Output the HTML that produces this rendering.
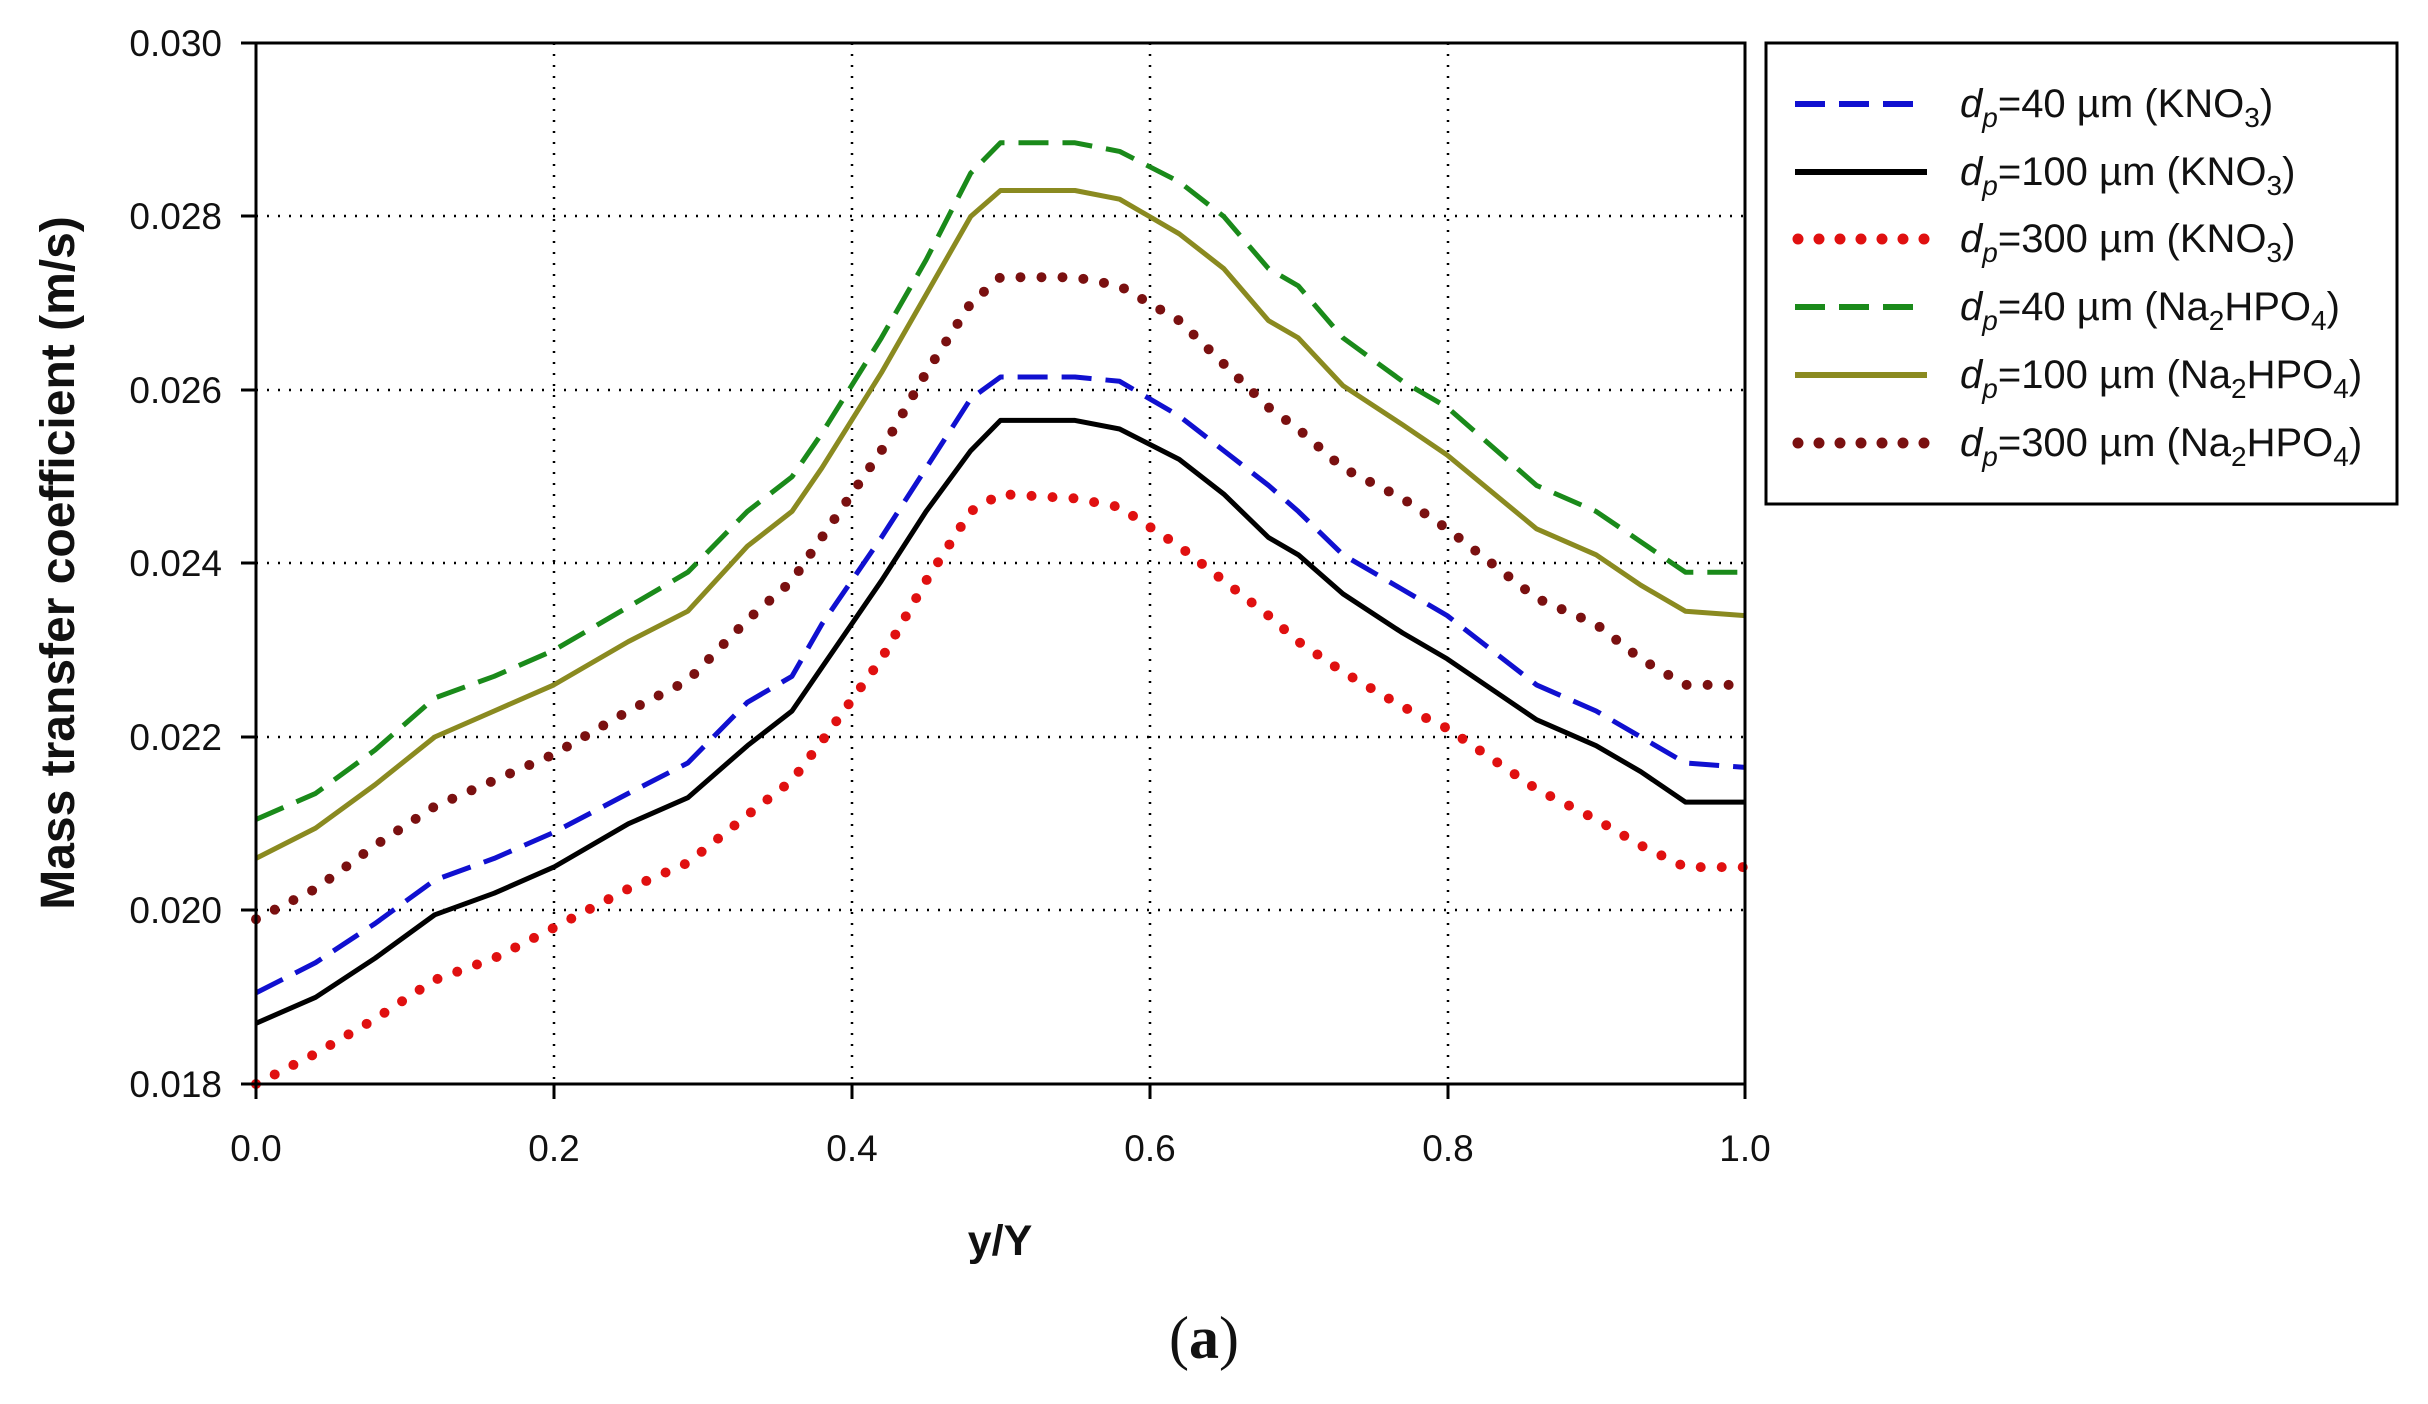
<!DOCTYPE html>
<html><head><meta charset="utf-8"><style>
html,body{margin:0;padding:0;background:#fff;}
svg{display:block;font-family:"Liberation Sans",Arial,sans-serif;}
</style></head><body>
<svg id="s" width="2428" height="1404" viewBox="0 0 2428 1404" xmlns="http://www.w3.org/2000/svg">
<rect width="2428" height="1404" fill="#fff"/>
<g stroke="#000" stroke-width="2.5" stroke-dasharray="2 9" fill="none">
<line x1="554" y1="43" x2="554" y2="1084"/><line x1="852" y1="43" x2="852" y2="1084"/>
<line x1="1150" y1="43" x2="1150" y2="1084"/><line x1="1448" y1="43" x2="1448" y2="1084"/>
<line x1="256" y1="910" x2="1745" y2="910"/><line x1="256" y1="737" x2="1745" y2="737"/>
<line x1="256" y1="563" x2="1745" y2="563"/><line x1="256" y1="390" x2="1745" y2="390"/>
<line x1="256" y1="216" x2="1745" y2="216"/>
</g>
<g id="series"></g>
<rect x="256" y="43" width="1489" height="1041" fill="none" stroke="#000" stroke-width="3"/>
<g stroke="#000" stroke-width="3">
<line x1="256" y1="1084" x2="256" y2="1099"/><line x1="554" y1="1084" x2="554" y2="1099"/>
<line x1="852" y1="1084" x2="852" y2="1099"/><line x1="1150" y1="1084" x2="1150" y2="1099"/>
<line x1="1448" y1="1084" x2="1448" y2="1099"/><line x1="1745" y1="1084" x2="1745" y2="1099"/>
<line x1="241" y1="1084" x2="256" y2="1084"/><line x1="241" y1="910" x2="256" y2="910"/>
<line x1="241" y1="737" x2="256" y2="737"/><line x1="241" y1="563" x2="256" y2="563"/>
<line x1="241" y1="390" x2="256" y2="390"/><line x1="241" y1="216" x2="256" y2="216"/>
<line x1="241" y1="43" x2="256" y2="43"/>
</g>
<g font-size="37" fill="#111" text-anchor="end">
<text x="222" y="1097">0.018</text><text x="222" y="923">0.020</text><text x="222" y="750">0.022</text>
<text x="222" y="576">0.024</text><text x="222" y="403">0.026</text><text x="222" y="229">0.028</text>
<text x="222" y="56">0.030</text>
</g>
<g font-size="37" fill="#111" text-anchor="middle">
<text x="256" y="1161">0.0</text><text x="554" y="1161">0.2</text><text x="852" y="1161">0.4</text>
<text x="1150" y="1161">0.6</text><text x="1448" y="1161">0.8</text><text x="1745" y="1161">1.0</text>
</g>
<text x="1000" y="1255" font-size="43" font-weight="bold" text-anchor="middle" fill="#111">y/Y</text>
<text transform="translate(74,563) rotate(-90)" font-size="48" font-weight="bold" text-anchor="middle" fill="#111">Mass transfer coefficient (m/s)</text>
<text x="1204" y="1358" font-size="60" text-anchor="middle" font-family="Liberation Serif,serif" fill="#111">(<tspan font-weight="bold">a</tspan>)</text>
<rect x="1766" y="43" width="631" height="461" fill="#fff" stroke="#000" stroke-width="3"/>
<g id="leg"></g>
<g font-size="40" fill="#111">
<text x="1960" y="117"><tspan font-style="italic">d</tspan><tspan font-style="italic" font-size="28" dy="10">p</tspan><tspan dy="-10">=40 µm (KNO</tspan><tspan font-size="28" dy="10">3</tspan><tspan dy="-10">)</tspan></text>
<text x="1960" y="185"><tspan font-style="italic">d</tspan><tspan font-style="italic" font-size="28" dy="10">p</tspan><tspan dy="-10">=100 µm (KNO</tspan><tspan font-size="28" dy="10">3</tspan><tspan dy="-10">)</tspan></text>
<text x="1960" y="252"><tspan font-style="italic">d</tspan><tspan font-style="italic" font-size="28" dy="10">p</tspan><tspan dy="-10">=300 µm (KNO</tspan><tspan font-size="28" dy="10">3</tspan><tspan dy="-10">)</tspan></text>
<text x="1960" y="320"><tspan font-style="italic">d</tspan><tspan font-style="italic" font-size="28" dy="10">p</tspan><tspan dy="-10">=40 µm (Na</tspan><tspan font-size="28" dy="10">2</tspan><tspan dy="-10">HPO</tspan><tspan font-size="28" dy="10">4</tspan><tspan dy="-10">)</tspan></text>
<text x="1960" y="388"><tspan font-style="italic">d</tspan><tspan font-style="italic" font-size="28" dy="10">p</tspan><tspan dy="-10">=100 µm (Na</tspan><tspan font-size="28" dy="10">2</tspan><tspan dy="-10">HPO</tspan><tspan font-size="28" dy="10">4</tspan><tspan dy="-10">)</tspan></text>
<text x="1960" y="456"><tspan font-style="italic">d</tspan><tspan font-style="italic" font-size="28" dy="10">p</tspan><tspan dy="-10">=300 µm (Na</tspan><tspan font-size="28" dy="10">2</tspan><tspan dy="-10">HPO</tspan><tspan font-size="28" dy="10">4</tspan><tspan dy="-10">)</tspan></text>
</g>
</svg>
<script>
var xs=[0,0.04,0.08,0.12,0.16,0.2,0.25,0.29,0.33,0.36,0.38,0.42,0.45,0.48,0.5,0.55,0.58,0.62,0.65,0.68,0.7,0.73,0.77,0.8,0.86,0.9,0.93,0.96,1.0];
var S=[
{c:"#1010d0",d:"30 14",cap:"butt",w:5,v:[19.05,19.4,19.85,20.35,20.6,20.9,21.35,21.7,22.4,22.7,23.3,24.3,25.1,25.9,26.15,26.15,26.1,25.7,25.3,24.9,24.6,24.1,23.7,23.4,22.6,22.3,22.0,21.7,21.65]},
{c:"#000",d:"",cap:"butt",w:5,v:[18.7,19.0,19.45,19.95,20.2,20.5,21.0,21.3,21.9,22.3,22.8,23.8,24.6,25.3,25.65,25.65,25.55,25.2,24.8,24.3,24.1,23.65,23.2,22.9,22.2,21.9,21.6,21.25,21.25]},
{c:"#e01010",d:"0 21",cap:"round",w:10,v:[18.0,18.35,18.75,19.2,19.45,19.8,20.25,20.55,21.1,21.5,21.95,22.9,23.8,24.6,24.8,24.75,24.65,24.2,23.8,23.4,23.1,22.75,22.35,22.1,21.4,21.05,20.75,20.5,20.5]},
{c:"#1a8a1a",d:"30 14",cap:"butt",w:5,v:[21.05,21.35,21.85,22.45,22.7,23.0,23.5,23.9,24.6,25.0,25.5,26.6,27.5,28.5,28.85,28.85,28.75,28.4,28.0,27.4,27.2,26.6,26.1,25.8,24.9,24.6,24.25,23.9,23.9]},
{c:"#8a8a20",d:"",cap:"butt",w:5,v:[20.6,20.95,21.45,22.0,22.3,22.6,23.1,23.45,24.2,24.6,25.1,26.2,27.1,28.0,28.3,28.3,28.2,27.8,27.4,26.8,26.6,26.05,25.6,25.25,24.4,24.1,23.75,23.45,23.4]},
{c:"#7a1010",d:"0 21",cap:"round",w:10,v:[19.9,20.25,20.75,21.2,21.5,21.8,22.3,22.65,23.35,23.8,24.3,25.3,26.2,27.0,27.3,27.3,27.2,26.8,26.3,25.8,25.55,25.1,24.75,24.4,23.6,23.3,22.9,22.6,22.6]}];
var g=document.getElementById("series"),lg=document.getElementById("leg"),ns="http://www.w3.org/2000/svg";
var ly=[104,172,239,307,375,443];
S.forEach(function(s,i){
 var p=s.v.map(function(v,j){return (256+xs[j]*1489).toFixed(1)+","+(1084-(v-18)*86.75).toFixed(1)}).join(" ");
 var e=document.createElementNS(ns,"polyline");
 e.setAttribute("points",p);e.setAttribute("fill","none");e.setAttribute("stroke",s.c);
 e.setAttribute("stroke-width",s.w);e.setAttribute("stroke-linecap",s.cap);e.setAttribute("stroke-linejoin","round");
 if(s.d)e.setAttribute("stroke-dasharray",s.d);g.appendChild(e);
 var l=document.createElementNS(ns,"line");
 l.setAttribute("x1",1795);l.setAttribute("x2",s.d?1914:1927);
 if(s.cap=="round"){l.setAttribute("x1",1798);l.setAttribute("x2",1925);}
 l.setAttribute("y1",ly[i]);l.setAttribute("y2",ly[i]);l.setAttribute("stroke",s.c);
 l.setAttribute("stroke-width",s.w+1);l.setAttribute("stroke-linecap",s.cap);
 if(s.d)l.setAttribute("stroke-dasharray",s.cap=="round"?"0 21":"30 14");lg.appendChild(l);
});
</script>
</body></html>
